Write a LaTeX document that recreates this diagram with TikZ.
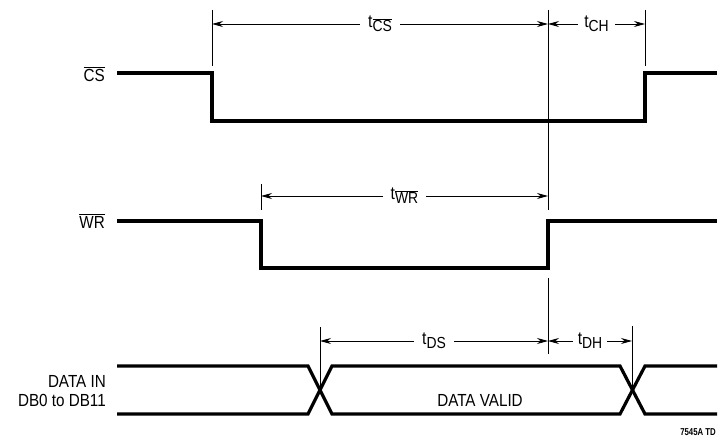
\documentclass[tikz,border=0pt]{standalone}
\usepackage{fontspec}
\setmainfont{Liberation Sans}[FakeStretch=0.87]
\newfontfamily\tagfont{Liberation Sans}[FakeStretch=0.78]
\usetikzlibrary{arrows.meta}
\tikzset{
  sig/.style={line width=3.2pt, line join=miter, line cap=butt},
  thin/.style={line width=0.9pt},
  dim/.style={line width=0.9pt, {Stealth[length=11pt,width=6pt]}-{Stealth[length=11pt,width=6pt]}},
  lbl/.style={font=\fontsize{17.5}{19}\selectfont, inner sep=0pt},
  tlab/.style={font=\fontsize{18}{19}\selectfont, fill=white, inner xsep=8pt, inner ysep=1pt},
  signame/.style={font=\fontsize{17.5}{19}\selectfont, anchor=east, inner sep=0pt, align=right}
}
\newcommand{\ovl}[1]{$\overline{\mbox{#1}}$}
\newcommand{\tsub}[1]{t\raisebox{-4pt}{\fontsize{16}{17}\selectfont #1}}
\begin{document}
\begin{tikzpicture}[x=1pt,y=-1pt]
\useasboundingbox (0,0) rectangle (719,438);
% --- CS ---
\coordinate (cs0) at (117,73);
\coordinate (csf) at (212,73);
\coordinate (csfl) at (212,121);
\coordinate (csrl) at (645,121);
\coordinate (csr) at (645,73);
\coordinate (cs1) at (717,73);
\draw[sig] (cs0) -- (csf) -- (csfl) -- (csrl) -- (csr) -- (cs1);
\node[signame] (csname) at (105,74) {\ovl{CS}};
% ticks
\coordinate (tk1a) at (212,10); \coordinate (tk1b) at (212,66);
\coordinate (tk2a) at (548,10); \coordinate (tk2b) at (548,210);
\coordinate (tk3a) at (645,10); \coordinate (tk3b) at (645,66);
\draw[thin] (tk1a) -- (tk1b);
\draw[thin] (tk2a) -- (tk2b);
\draw[thin] (tk3a) -- (tk3b);
\coordinate (aCS1) at (212,24); \coordinate (aCS2) at (548,24); \coordinate (aCH2) at (645,24);
\draw[dim] (aCS1) -- node[tlab] (tcs) {\tsub{\ovl{CS}}} (aCS2);
\draw[dim] (aCS2) -- node[tlab, inner xsep=6pt] (tch) {\tsub{CH}} (aCH2);
% --- WR ---
\coordinate (wr0) at (117,221);
\coordinate (wrf) at (261,221);
\coordinate (wrfl) at (261,268);
\coordinate (wrrl) at (548,268);
\coordinate (wrr) at (548,221);
\coordinate (wr1) at (717,221);
\draw[sig] (wr0) -- (wrf) -- (wrfl) -- (wrrl) -- (wrr) -- (wr1);
\node[signame] (wrname) at (105,221) {\ovl{WR}};
\coordinate (tk4a) at (261,184); \coordinate (tk4b) at (261,210);
\draw[thin] (tk4a) -- (tk4b);
\coordinate (aWR1) at (261,196); \coordinate (aWR2) at (548,196);
\draw[dim] (aWR1) -- node[tlab] (twr) {\tsub{\ovl{WR}}} (aWR2);
% --- DATA ---
\coordinate (dt0) at (117,366); \coordinate (db0) at (117,414);
\coordinate (x1a) at (308,366); \coordinate (x1b) at (308,414);
\coordinate (x1c) at (332,366); \coordinate (x1d) at (332,414);
\coordinate (x2a) at (620,366); \coordinate (x2b) at (620,414);
\coordinate (x2c) at (645,366); \coordinate (x2d) at (645,414);
\coordinate (dt1) at (717,366); \coordinate (db1) at (717,414);
\draw[sig] (dt0) -- (x1a) -- (x1d) -- (x2b) -- (x2c) -- (dt1);
\draw[sig] (db0) -- (x1b) -- (x1c) -- (x2a) -- (x2d) -- (db1);
\node[signame] (dname) at (106,391) {DATA IN\\DB0 to DB11};
\node[lbl] (dv) at (480,400) {DATA VALID};
\coordinate (tk5a) at (320,327); \coordinate (tk5b) at (320,390);
\coordinate (tk6a) at (548,278); \coordinate (tk6b) at (548,354);
\coordinate (tk7a) at (632,326); \coordinate (tk7b) at (632,390);
\draw[thin] (tk5a) -- (tk5b);
\draw[thin] (tk6a) -- (tk6b);
\draw[thin] (tk7a) -- (tk7b);
\coordinate (aDS1) at (320,341); \coordinate (aDS2) at (548,341); \coordinate (aDH2) at (632,341);
\draw[dim] (aDS1) -- node[tlab] (tds) {\tsub{DS}} (aDS2);
\draw[dim] (aDS2) -- node[tlab, inner xsep=5pt] (tdh) {\tsub{DH}} (aDH2);
\node[font=\tagfont\bfseries\fontsize{10}{11}\selectfont, anchor=base east, inner sep=0pt] (tag) at (716,435) {7545A TD};
\end{tikzpicture}
\end{document}
